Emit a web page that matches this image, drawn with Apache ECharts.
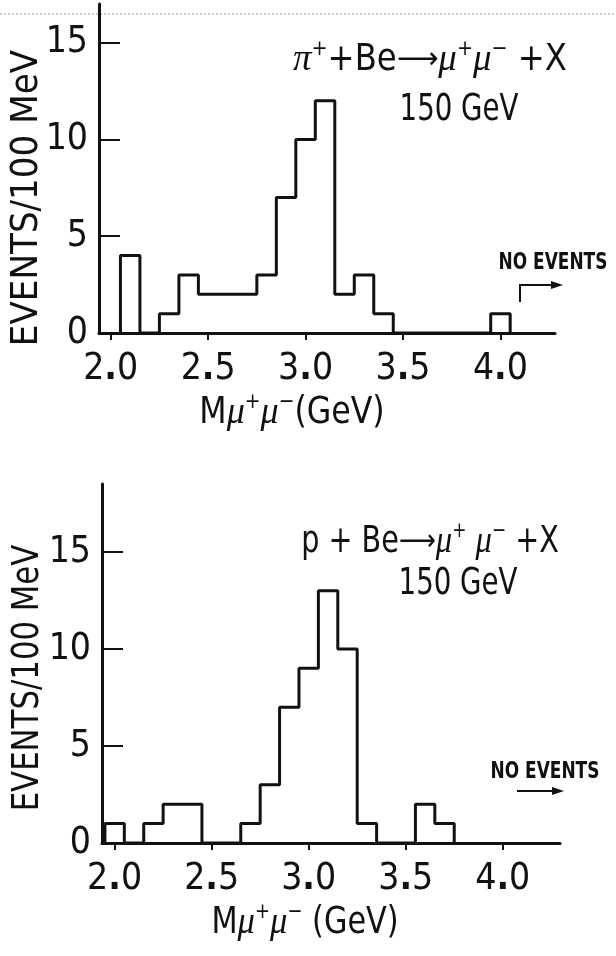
<!DOCTYPE html>
<html><head><meta charset="utf-8">
<script src="https://cdn.jsdelivr.net/npm/echarts@6/dist/echarts.min.js"></script>
<style>html,body{margin:0;padding:0;background:#fff}#c{width:616px;height:956px}</style>
</head><body><div id="c"></div>
<script>
// ---- data ----
const binWidth = 0.1;
const topBinCenters = [2.1, 2.2, 2.3, 2.4, 2.5, 2.6, 2.7, 2.8, 2.9, 3.0, 3.1, 3.2, 3.3, 3.4, 3.5, 3.6, 3.7, 3.8, 3.9, 4.0];
const topCounts     = [4,   0,   1,   3,   2,   2,   2,   3,   7,   10,  12,  2,   3,   1,   0,   0,   0,   0,   0,   1];
const bottomBinCenters = [2.0, 2.1, 2.2, 2.3, 2.4, 2.5, 2.6, 2.7, 2.8, 2.9, 3.0, 3.1, 3.2, 3.3, 3.4, 3.5, 3.6, 3.7];
const bottomCounts     = [1,   0,   1,   2,   2,   0,   0,   1,   3,   7,   9,   13,  10,  1,   0,   0,   2,   1];
const xTickValues = [2.0, 2.5, 3.0, 3.5, 4.0];
const yTickValues = [0, 5, 10, 15];

const FONT = '"Liberation Sans Narrow", "DejaVu Sans Condensed", "Roboto Condensed", sans-serif';
const SERIF = '"Liberation Serif", "DejaVu Serif", serif';
const INK = '#111';

function stepPoints(centers, counts) {
  const r = v => Math.round(v * 1000) / 1000;
  const pts = [[r(centers[0] - binWidth / 2), 0]];
  centers.forEach((c, i) => pts.push([r(c + binWidth / 2), counts[i]]));
  pts.push([r(centers[centers.length - 1] + binWidth / 2), 0]);
  return pts;
}

const xLabelFmt = v => { const s = Number(v).toFixed(1).split('.'); return s[0] + '{d|.}' + s[1]; };

function xAxisCfg(gi, min, max) {
  return {
    type: 'value', gridIndex: gi, min: min, max: max,
    axisLine: { show: true, onZero: false, lineStyle: { color: INK, width: 3 } },
    axisTick: { show: true, customValues: xTickValues, length: 7, lineStyle: { color: INK, width: 2 } },
    axisLabel: {
      customValues: xTickValues, formatter: xLabelFmt, margin: 18,
      color: INK, fontSize: 37, fontFamily: FONT,
      rich: { d: { fontSize: 37, fontWeight: 'bold', fontFamily: FONT, color: INK } }
    },
    splitLine: { show: false }
  };
}
function yAxisCfg(gi, max) {
  return {
    type: 'value', gridIndex: gi, min: 0, max: max,
    axisLine: { show: true, onZero: false, lineStyle: { color: INK, width: 3 } },
    axisTick: { show: true, inside: true, customValues: yTickValues, length: 21, lineStyle: { color: INK, width: 2 } },
    axisLabel: { customValues: yTickValues, margin: 11, color: INK, fontSize: 37, fontFamily: FONT },
    splitLine: { show: false }
  };
}

const richBase = {
  n: { fontFamily: FONT, fontSize: 37, color: INK },
  i: { fontFamily: SERIF, fontStyle: 'italic', fontSize: 38, color: INK },
  s: { fontFamily: FONT, fontSize: 22, color: INK, padding: [0, 0, 22, 0] },
  a: { fontFamily: '"DejaVu Sans", sans-serif', fontSize: 30, color: INK }
};

function txt(x, y, text, opts) {
  opts = opts || {};
  return {
    type: 'text', x: x, y: y, silent: true,
    rotation: opts.rotation || 0, scaleX: opts.scaleX || 1, scaleY: opts.scaleY || 1,
    style: Object.assign({
      text: text, fill: INK, font: '37px ' + FONT,
      align: 'center', verticalAlign: 'middle', textAlign: 'center', textVerticalAlign: 'middle',
      rich: richBase
    }, opts.style || {})
  };
}

const chart = echarts.init(document.getElementById('c'), null, { renderer: 'canvas' });
chart.setOption({
  animation: false,
  backgroundColor: '#fff',
  grid: [
    { left: 99, top: 4, width: 456, height: 329 },
    { left: 102, top: 484, width: 458, height: 359 }
  ],
  xAxis: [xAxisCfg(0, 1.94, 4.28), xAxisCfg(1, 1.935, 4.295)],
  yAxis: [yAxisCfg(0, 17), yAxisCfg(1, 18.5)],
  series: [
    { type: 'line', step: 'start', xAxisIndex: 0, yAxisIndex: 0, symbol: 'none',
      lineStyle: { color: INK, width: 3 }, data: stepPoints(topBinCenters, topCounts) },
    { type: 'line', step: 'start', xAxisIndex: 1, yAxisIndex: 1, symbol: 'none',
      lineStyle: { color: INK, width: 3 }, data: stepPoints(bottomBinCenters, bottomCounts) }
  ],
  graphic: [
    { type: 'line', silent: true, shape: { x1: 0, y1: 14, x2: 616, y2: 14 },
      style: { stroke: '#9a9a9a', lineWidth: 1, lineDash: [2, 2] } },
    txt(27, 198, 'EVENTS/100 MeV', { rotation: Math.PI / 2, style: { font: '38px ' + FONT } }),
    txt(28, 678, 'EVENTS/100 MeV', { rotation: Math.PI / 2, scaleX: 0.9, style: { font: '38px ' + FONT } }),
    txt(430, 60, '{i|π}{s|+}{n|+Be}{a|⟶}{i|μ}{s|+}{i|μ}{s|−}{n| +X}', { scaleX: 0.97 }),
    txt(459, 110, '150 GeV', { scaleX: 0.83 }),
    txt(292, 413, '{n|M}{i|μ}{s|+}{i|μ}{s|−}{n|(GeV)}', { scaleX: 0.95 }),
    txt(553, 263, 'NO EVENTS', { scaleX: 0.82, style: { font: 'bold 23px ' + FONT } }),
    { type: 'polyline', silent: true, shape: { points: [[520, 302], [520, 285], [555, 285]] },
      style: { stroke: INK, lineWidth: 2, fill: null } },
    { type: 'polygon', silent: true, shape: { points: [[563, 285], [551, 281], [551, 289]] },
      style: { fill: INK } },
    txt(430, 542, '{n|p + Be}{a|⟶}{i|μ}{s|+}{n| }{i|μ}{s|−}{n| +X}', { scaleX: 0.86 }),
    txt(458, 584, '150 GeV', { scaleX: 0.83 }),
    txt(305, 923, '{n|M}{i|μ}{s|+}{i|μ}{s|−}{n| (GeV)}', { scaleX: 0.91 }),
    txt(545, 772, 'NO EVENTS', { scaleX: 0.82, style: { font: 'bold 23px ' + FONT } }),
    { type: 'line', silent: true, shape: { x1: 517, y1: 791, x2: 555, y2: 791 },
      style: { stroke: INK, lineWidth: 2 } },
    { type: 'polygon', silent: true, shape: { points: [[564, 791], [552, 787], [552, 795]] },
      style: { fill: INK } }
  ]
});
</script></body></html>
